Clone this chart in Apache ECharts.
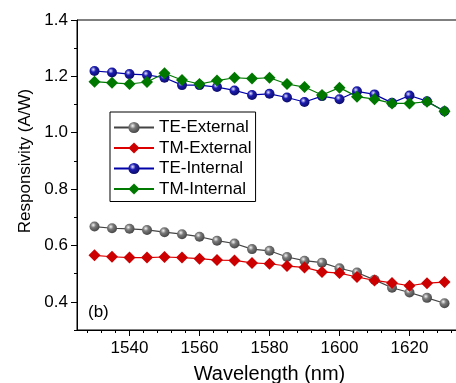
<!DOCTYPE html>
<html>
<head>
<meta charset="utf-8">
<script src="https://cdn.jsdelivr.net/npm/echarts@6/dist/echarts.min.js"></script>
<style>
html,body{margin:0;padding:0;background:#fff;}
#chart{width:456px;height:383px;}
</style>
</head>
<body>
<div id="chart"></div>
<script>
var wavelength = [1530,1535,1540,1545,1550,1555,1560,1565,1570,1575,1580,1585,1590,1595,1600,1605,1610,1615,1620,1625,1630];
var teExternal = [0.667,0.661,0.659,0.655,0.647,0.640,0.631,0.617,0.607,0.587,0.581,0.559,0.546,0.539,0.519,0.504,0.478,0.450,0.433,0.414,0.395];
var tmExternal = [0.565,0.560,0.557,0.557,0.559,0.557,0.553,0.548,0.547,0.538,0.535,0.527,0.522,0.506,0.502,0.488,0.476,0.467,0.457,0.466,0.470];
var teInternal = [1.219,1.214,1.208,1.205,1.195,1.169,1.169,1.162,1.150,1.134,1.138,1.125,1.109,1.130,1.119,1.147,1.136,1.106,1.132,1.112,1.076];
var tmInternal = [1.181,1.177,1.173,1.180,1.211,1.187,1.173,1.185,1.195,1.192,1.195,1.173,1.162,1.134,1.160,1.128,1.119,1.104,1.104,1.110,1.076];
var seriesNames = ['TE-External','TM-External','TE-Internal','TM-Internal'];
var xMajorTicks = [1540,1560,1580,1600,1620];
var xMinorTicks = [1528,1532,1536,1544,1548,1552,1556,1564,1568,1572,1576,1584,1588,1592,1596,1604,1608,1612,1616,1624,1628,1632];
var yMajorTicks = [0.4,0.6,0.8,1.0,1.2,1.4];
var yMinorTicks = [0.3,0.5,0.7,0.9,1.1,1.3];

var FONT = 'Arial, "Liberation Sans", sans-serif';

function pairs(ys){ return wavelength.map(function(x,i){ return [x, ys[i]]; }); }
function sphere(light, mid, dark){
  return {type:'radial', x:0.38, y:0.35, r:0.75, colorStops:[
    {offset:0, color:light},{offset:0.35, color:mid},{offset:1, color:dark}]};
}

var chart = echarts.init(document.getElementById('chart'), null, {renderer:'canvas'});
var axisLineStyle = {color:'#000', width:1};
chart.setOption({
  backgroundColor:'#fff',
  animation:false,
  textStyle:{fontFamily:FONT},
  grid:{left:77, top:20, width:385, height:310, show:true, borderColor:'#000', borderWidth:1,
        backgroundColor:'transparent', containLabel:false, outerBoundsMode:'none'},
  legend:{
    data:seriesNames, orient:'vertical', left:110, top:112,
    itemWidth:40, itemHeight:14, itemGap:3.5, itemTextGap:5,
    padding:[7,4,4,3], borderColor:'#000', borderWidth:1, borderRadius:0,
    textStyle:{fontSize:17, color:'#000', fontFamily:FONT}
  },
  xAxis:[
    {type:'value', min:1525, max:1635, position:'bottom', gridIndex:0,
     axisLine:{show:true, onZero:false, lineStyle:axisLineStyle},
     axisTick:{show:true, customValues:xMinorTicks, length:3, inside:false, lineStyle:axisLineStyle},
     axisLabel:{show:false}, splitLine:{show:false}},
    {type:'value', min:1525, max:1635, position:'bottom', gridIndex:0, offset:0,
     axisLine:{show:false, onZero:false},
     axisTick:{show:true, customValues:xMajorTicks, length:6, inside:false, lineStyle:axisLineStyle},
     axisLabel:{show:true, customValues:xMajorTicks, fontSize:17, color:'#000', margin:10, fontFamily:FONT,
       formatter:function(v){ return String(Math.round(v)); }},
     splitLine:{show:false},
     name:'Wavelength (nm)', nameLocation:'middle', nameGap:34,
     nameTextStyle:{fontSize:20, color:'#000', fontFamily:FONT}}
  ],
  yAxis:[
    {type:'value', min:0.3, max:1.4, position:'left', gridIndex:0,
     axisLine:{show:true, onZero:false, lineStyle:axisLineStyle},
     axisTick:{show:true, customValues:yMinorTicks, length:3, inside:false, lineStyle:axisLineStyle},
     axisLabel:{show:false}, splitLine:{show:false}},
    {type:'value', min:0.3, max:1.4, position:'left', gridIndex:0, offset:0,
     axisLine:{show:false, onZero:false},
     axisTick:{show:true, customValues:yMajorTicks, length:6, inside:false, lineStyle:axisLineStyle},
     axisLabel:{show:true, customValues:yMajorTicks, fontSize:17, color:'#000', margin:9, fontFamily:FONT,
       formatter:function(v){ return Number(v).toFixed(1); }},
     splitLine:{show:false}}
  ],
  graphic:[
    {type:'text', left:88, top:304, style:{text:'(b)', font:'17px ' + FONT, fill:'#000'}},
    {type:'text', x:25, y:161, rotation:Math.PI/2,
     style:{text:'Responsivity (A/W)', font:'17px ' + FONT, fill:'#000', align:'center', verticalAlign:'middle'}}
  ],
  series:[
    {name:seriesNames[0], type:'line', data:pairs(teExternal), symbol:'circle', symbolSize:10,
     lineStyle:{color:'#444', width:1.2}, itemStyle:{color:sphere('#f4f4f4','#7a7a7a','#3a3a3a')}, z:2},
    {name:seriesNames[1], type:'line', data:pairs(tmExternal), symbol:'diamond', symbolSize:[12,12],
     lineStyle:{color:'#dd0000', width:1.2}, itemStyle:{color:'#cc0000'}, z:3},
    {name:seriesNames[2], type:'line', data:pairs(teInternal), symbol:'circle', symbolSize:10,
     lineStyle:{color:'#0000a8', width:1.2}, itemStyle:{color:sphere('#e8e8ff','#1c1cb0','#08085a')}, z:4},
    {name:seriesNames[3], type:'line', data:pairs(tmInternal), symbol:'diamond', symbolSize:[12,12],
     lineStyle:{color:'#007a00', width:1.2}, itemStyle:{color:'#007800'}, z:5}
  ]
});
</script>
</body>
</html>
